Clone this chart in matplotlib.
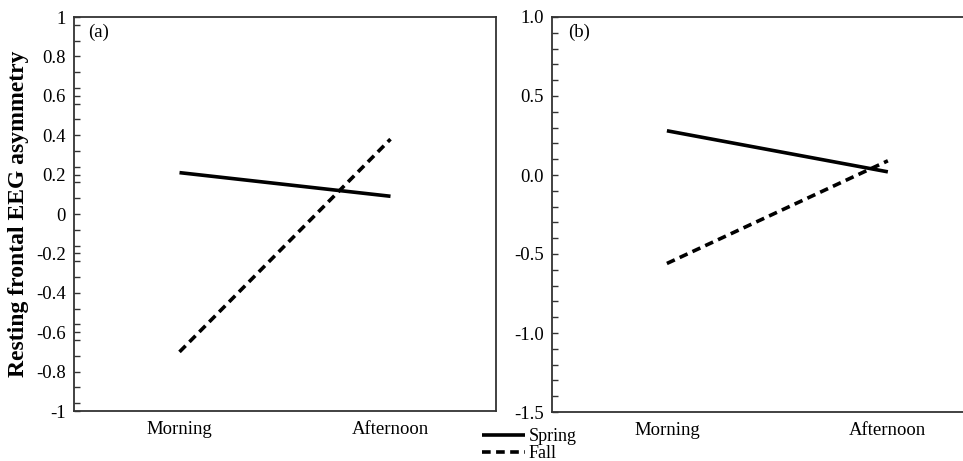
import matplotlib
matplotlib.use("Agg")
import matplotlib.pyplot as plt
from matplotlib.ticker import MultipleLocator, FixedLocator

plt.rcParams['font.family'] = ['Liberation Serif', 'DejaVu Serif']

# data
times = ["Morning", "Afternoon"]
a_spring = [0.21, 0.09]
a_fall = [-0.70, 0.38]
b_spring = [0.28, 0.02]
b_fall = [-0.56, 0.09]

a_ticks = [1, 0.8, 0.6, 0.4, 0.2, 0, -0.2, -0.4, -0.6, -0.8, -1]
a_labels = ["1", "0.8", "0.6", "0.4", "0.2", "0", "-0.2", "-0.4", "-0.6", "-0.8", "-1"]
b_ticks = [1.0, 0.5, 0.0, -0.5, -1.0, -1.5]
b_labels = ["1.0", "0.5", "0.0", "-0.5", "-1.0", "-1.5"]

fig = plt.figure(figsize=(9.63, 4.61), dpi=100)
ax1 = fig.add_axes([74/963, 50/461, 422/963, 394/461])
ax2 = fig.add_axes([552/963, 49/461, 411/963, 395/461])

x = [0, 1]
dash = (2.4, 1.5)
frame = "#333333"
fs = 13.5

for ax, spring, fall in [(ax1, a_spring, a_fall), (ax2, b_spring, b_fall)]:
    ax.plot(x, spring, color="black", lw=2.6, solid_capstyle="butt", label="Spring")
    ax.plot(x, fall, color="black", lw=2.6, dashes=dash, dash_capstyle="butt", label="Fall")
    ax.set_xticks(x)
    ax.set_xticklabels(times, fontsize=fs)
    ax.tick_params(axis="x", length=0, pad=7)
    ax.tick_params(axis="y", which="both", direction="in", length=4, width=1,
                   color=frame, labelsize=fs, pad=6)
    for s in ax.spines.values():
        s.set_color(frame)
        s.set_linewidth(1.3)

ax1.set_xlim(-0.5, 1.5)
ax1.set_ylim(-1, 1)
ax1.yaxis.set_major_locator(FixedLocator(a_ticks))
ax1.set_yticklabels(a_labels)
ax1.yaxis.set_minor_locator(MultipleLocator(0.08))
ax1.set_ylabel("Resting frontal EEG asymmetry", fontsize=17, fontweight="bold", labelpad=5)
ax1.text(0.033, 0.96, "(a)", transform=ax1.transAxes, fontsize=fs, va="center")

ax2.set_xlim(-0.52, 1.34)
ax2.set_ylim(-1.5, 1.0)
ax2.yaxis.set_major_locator(FixedLocator(b_ticks))
ax2.set_yticklabels(b_labels)
ax2.yaxis.set_minor_locator(MultipleLocator(0.1))
ax2.spines["right"].set_visible(False)
ax2.text(0.039, 0.96, "(b)", transform=ax2.transAxes, fontsize=fs, va="center")

handles, labels = ax1.get_legend_handles_labels()
fig.legend(handles, labels, loc="upper left", bbox_to_anchor=(482/963, 1 - 428/461),
           frameon=False, fontsize=13, handlelength=2.4, handletextpad=0.2,
           labelspacing=0.0, borderpad=0, borderaxespad=0)

fig.savefig("out.png", dpi=100)
